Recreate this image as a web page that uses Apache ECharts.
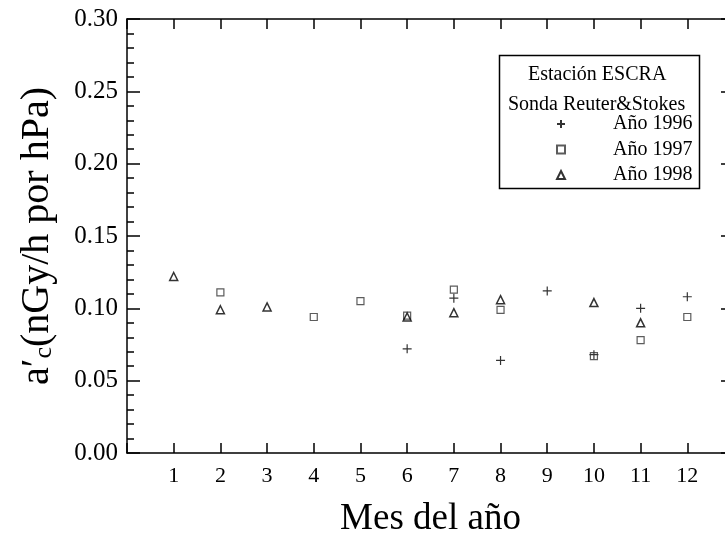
<!DOCTYPE html>
<html>
<head>
<meta charset="utf-8">
<script src="https://cdn.jsdelivr.net/npm/echarts@6/dist/echarts.min.js"></script>
<style>
  html, body { margin: 0; padding: 0; background: #fff; }
  #chart { width: 725px; height: 536px; }
</style>
</head>
<body>
<div id="chart"></div>
<script>
// Monthly coefficient a'c measured at station ESCRA (Reuter&Stokes probe)
const months = [1, 2, 3, 4, 5, 6, 7, 8, 9, 10, 11, 12];
const monthTicks = ['1', '2', '3', '4', '5', '6', '7', '8', '9', '10', '11', '12'];

const seriesNames = ['Año 1996', 'Año 1997', 'Año 1998'];

// [month, value] pairs per year
const year1996 = [[6, 0.072], [7, 0.107], [8, 0.064], [9, 0.112], [10, 0.068], [11, 0.100], [12, 0.108]];
const year1997 = [[2, 0.111], [4, 0.094], [5, 0.105], [6, 0.095], [7, 0.113], [8, 0.099], [10, 0.067], [11, 0.078], [12, 0.094]];
const year1998 = [[1, 0.122], [2, 0.099], [3, 0.101], [6, 0.094], [7, 0.097], [8, 0.106], [10, 0.104], [11, 0.090]];

const FONT = '"Liberation Serif", "Times New Roman", serif';
const chart = echarts.init(document.getElementById('chart'), null, { renderer: 'canvas' });

const frameLine = { show: true, onZero: false, lineStyle: { color: '#000', width: 1.5 } };
const tickStyle = { color: '#000', width: 1.5 };

const option = {
  backgroundColor: '#fff',
  animation: false,
  // the frame runs slightly past the right edge of the canvas
  grid: { left: 127, top: 19, width: 607, height: 434, outerBoundsMode: 'none', containLabel: false },
  legend: {
    data: seriesNames,
    orient: 'vertical',
    left: 551,
    top: 109,
    itemWidth: 8,
    itemHeight: 8,
    itemGap: 5.5,
    textStyle: { fontFamily: FONT, fontSize: 20, color: '#000', padding: [0, 0, 0, 43], lineHeight: 20 }
  },
  xAxis: [
    {
      type: 'value', min: 0, max: 13, interval: 1,
      name: 'Mes del año', nameLocation: 'middle', nameGap: 48,
      nameTextStyle: { fontFamily: FONT, fontSize: 37, color: '#000' },
      axisLine: frameLine,
      axisTick: { inside: true, length: 10, lineStyle: tickStyle },
      axisLabel: {
        margin: 12, fontFamily: FONT, fontSize: 22, color: '#000',
        formatter: v => (v >= 1 && v <= 12) ? monthTicks[months.indexOf(v)] : ''
      },
      splitLine: { show: false }
    },
    {
      type: 'value', position: 'top', min: 0, max: 13, interval: 1,
      axisLine: frameLine,
      axisTick: { inside: true, length: 10, lineStyle: tickStyle },
      axisLabel: { show: false },
      splitLine: { show: false }
    }
  ],
  yAxis: [
    {
      type: 'value', min: 0, max: 0.3, interval: 0.05,
      name: '{t|a′}{s|c}{t|(nGy/h por hPa)}', nameLocation: 'middle', nameGap: 70, nameRotate: 90,
      nameTextStyle: {
        color: '#000',
        rich: {
          t: { fontFamily: FONT, fontSize: 40, color: '#000' },
          s: { fontFamily: FONT, fontSize: 26, color: '#000', verticalAlign: 'bottom', lineHeight: 26 }
        }
      },
      axisLine: frameLine,
      axisTick: { inside: true, length: 13, lineStyle: tickStyle },
      minorTick: { show: true, splitNumber: 5, length: 7, lineStyle: tickStyle },
      axisLabel: { margin: 9, fontFamily: FONT, fontSize: 25, color: '#000', formatter: v => v.toFixed(2) },
      splitLine: { show: false }
    },
    {
      type: 'value', position: 'right', min: 0, max: 0.3, interval: 0.05,
      axisLine: frameLine,
      axisTick: { inside: true, length: 13, lineStyle: tickStyle },
      minorTick: { show: true, splitNumber: 5, length: 7, lineStyle: tickStyle },
      axisLabel: { show: false },
      splitLine: { show: false }
    }
  ],
  graphic: [
    {
      type: 'rect', left: 497, top: 53, z: 10,
      shape: { width: 200, height: 133 },
      style: { fill: 'none', stroke: '#000', lineWidth: 1.5 }
    },
    {
      type: 'text', top: 65, z: 11,
      style: { text: 'Estación ESCRA', font: '20px ' + FONT, fill: '#000' }
    },
    {
      type: 'text', top: 95, z: 11,
      style: { text: 'Sonda Reuter&Stokes', font: '20px ' + FONT, fill: '#000' }
    }
  ],
  series: [
    {
      name: seriesNames[0], type: 'scatter', data: year1996,
      symbol: 'path://M0,5H10M5,0V10', symbolSize: 9,
      itemStyle: { color: 'transparent', borderColor: '#000', borderWidth: 1.2 }
    },
    {
      name: seriesNames[1], type: 'scatter', data: year1997,
      symbol: 'rect', symbolSize: 7,
      itemStyle: { color: 'transparent', borderColor: '#333', borderWidth: 1.2 }
    },
    {
      name: seriesNames[2], type: 'scatter', data: year1998,
      symbol: 'triangle', symbolSize: 8,
      itemStyle: { color: 'transparent', borderColor: '#000', borderWidth: 1.5 }
    }
  ]
};

// centre the two header lines inside the legend frame
const boxCenter = 497 + 100;
const measure = (txt) => echarts.format.getTextRect ? echarts.format.getTextRect(txt, '20px ' + FONT).width : txt.length * 9;
option.graphic[1].left = Math.round(boxCenter - measure('Estación ESCRA') / 2);
option.graphic[2].left = Math.round(boxCenter - measure('Sonda Reuter&Stokes') / 2);

chart.setOption(option);
</script>
</body>
</html>
